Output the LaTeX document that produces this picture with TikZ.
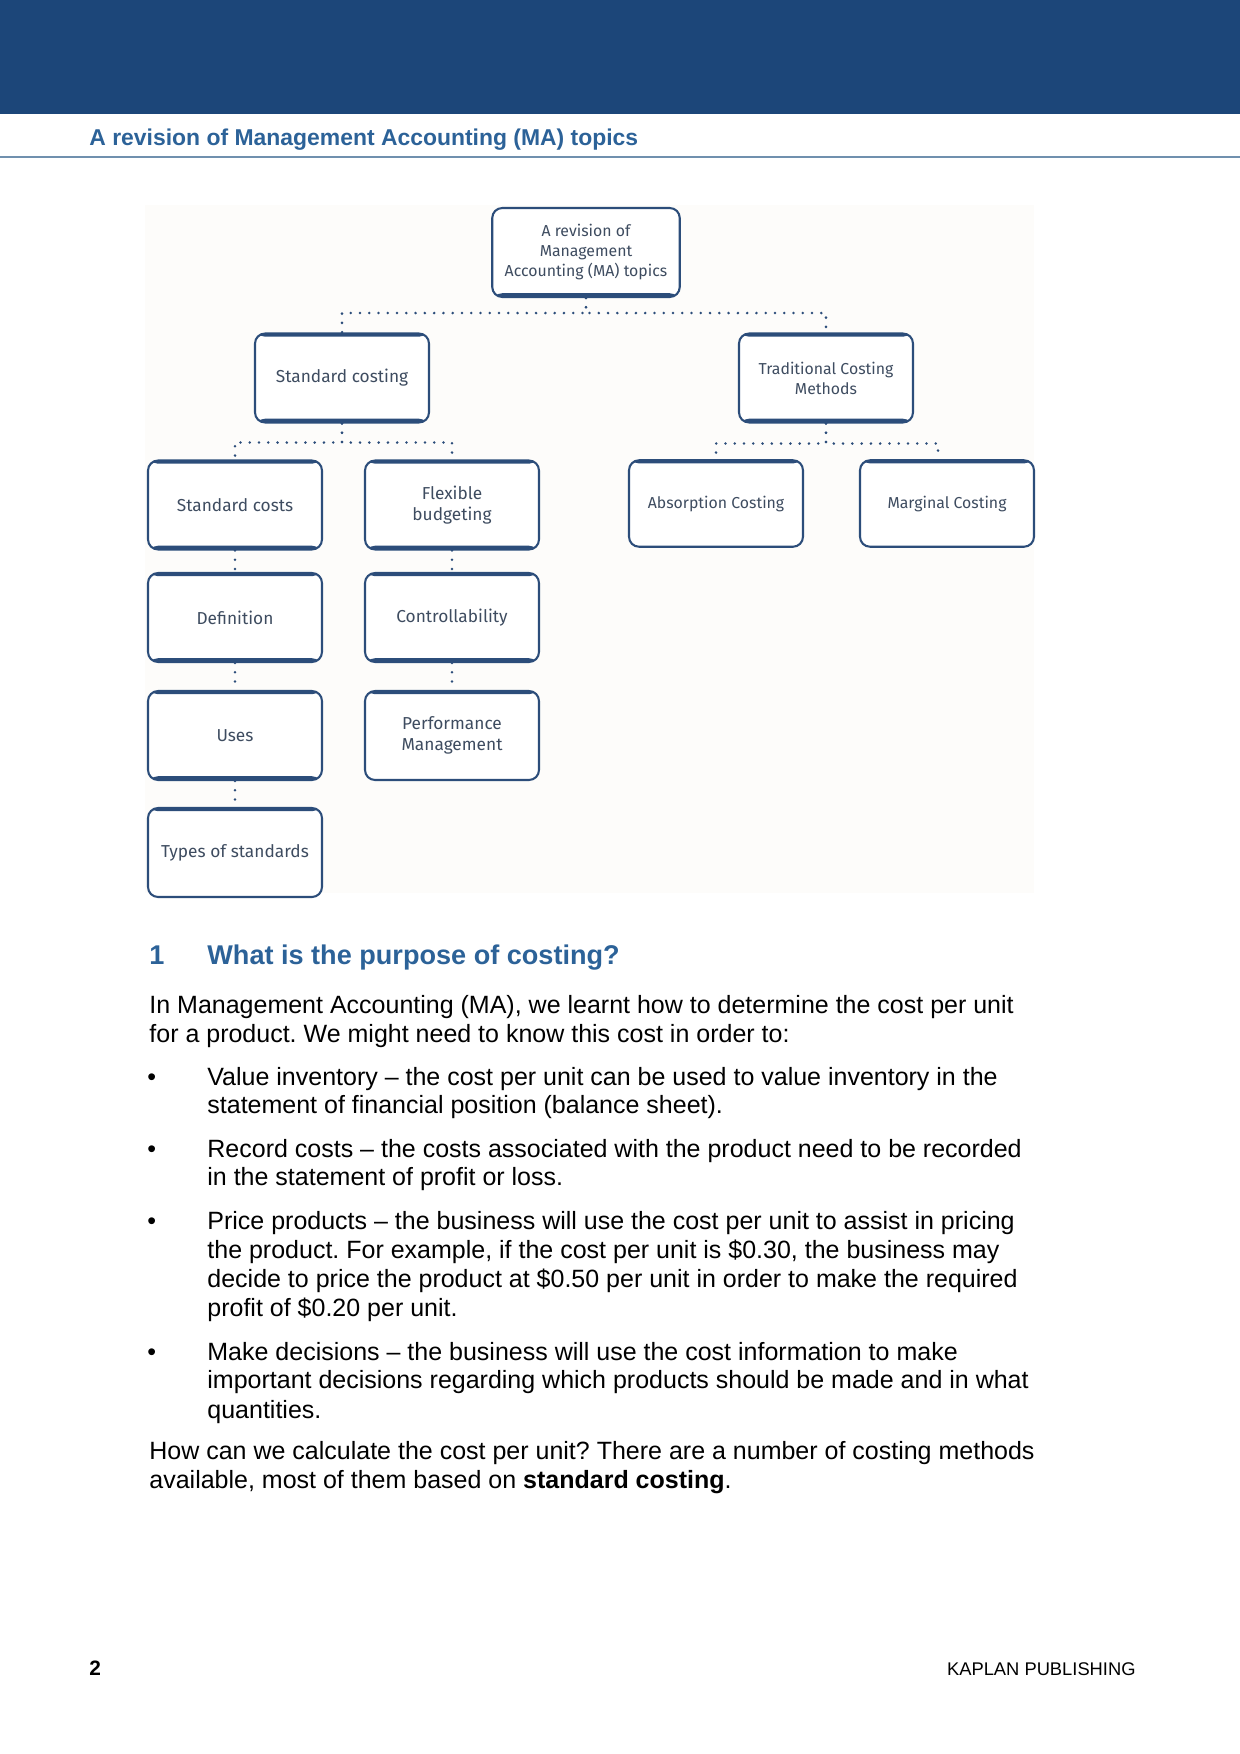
\documentclass[tikz,border=0pt]{standalone}
\usepackage{fontspec}
\setmainfont{Liberation Sans}
\newfontfamily\boxfont{Fira Sans}
\usepackage{tikz}
\usetikzlibrary{positioning}
\frenchspacing

\definecolor{bandblue}{RGB}{28,70,121}
\definecolor{headblue}{RGB}{44,98,152}
\definecolor{ruleblue}{RGB}{112,144,174}
\definecolor{boxblue}{RGB}{44,77,122}
\definecolor{boxtext}{RGB}{62,76,96}
\definecolor{panel}{RGB}{253,252,250}

\begin{document}
\begin{tikzpicture}[x=0.48pt, y=-0.48pt,
		box/.style={rectangle, rounded corners=4.8pt, draw=boxblue, line width=1pt, fill=white,
			minimum width=83.5pt, minimum height=42.7pt, inner sep=2pt, align=center,
			font=\boxfont\fontsize{7.6}{9.6}\selectfont, text=boxtext},
		bigbox/.style={box, font=\boxfont\fontsize{8.3}{10.2}\selectfont},
		thicktop/.style={path picture={\fill[boxblue] (path picture bounding box.north west) rectangle ([yshift=-1.5pt]path picture bounding box.north east);}},
		thickbot/.style={path picture={\fill[boxblue] (path picture bounding box.south west) rectangle ([yshift=1.8pt]path picture bounding box.south east);}},
		thickboth/.style={path picture={\fill[boxblue] (path picture bounding box.north west) rectangle ([yshift=-1.5pt]path picture bounding box.north east);
				\fill[boxblue] (path picture bounding box.south west) rectangle ([yshift=1.8pt]path picture bounding box.south east);}},
		dots/.style={draw=boxblue, line width=1.35pt, line cap=round, dash pattern=on 0pt off 4.45pt},
		body/.style={anchor=base west, inner sep=0pt, font=\fontsize{12}{14}\selectfont}]
	
	\useasboundingbox (0,0) rectangle (1240,1754);
	
	% page header
	\fill[bandblue] (0,0) rectangle (1240,114);
	\node[anchor=base west, inner sep=0pt, text=headblue, font=\bfseries\fontsize{11}{13}\selectfont] (title) at (89,145) {A revision of Management Accounting (MA) topics};
	\draw[ruleblue, line width=1pt] (0,157) -- (1240,157);
	
	% faint panel behind the chart
	\fill[panel] (145,205) rectangle (1034,893);
	
	% top of the chart
	\node[box, thickbot, minimum width=90pt] (root) at (586,252.5) {A revision of\\ Management\\ Accounting (MA) topics};
	\node[bigbox, thickboth] (stdcosting) at (342,378) {Standard costing};
	\node[box, thickboth] (tradcost) at (826,378) {Traditional Costing\\ Methods};
	
	% standard costing branch
	\node[bigbox, thickboth] (stdcosts) at (235,505) {Standard costs};
	\node[bigbox, thickboth] (flexbud) at (452,505) {Flexible\\ budgeting};
	\node[bigbox, thickboth] (defn) at (235,617.5) {Definition};
	\node[bigbox, thickboth] (uses) at (235,735.5) {Uses};
	\node[bigbox, thicktop] (typesstd) at (235,852.5) {Types of standards};
	\node[bigbox, thickboth] (control) at (452,617.5) {Controllability};
	\node[bigbox, thicktop] (perfmgmt) at (452,735.5) {Performance\\ Management};
	
	% traditional costing branch
	\node[box, thicktop, minimum height=41.5pt] (absorb) at (716,503.5) {Absorption Costing};
	\node[box, thicktop, minimum height=41.5pt] (marginal) at (947,503.5) {Marginal Costing};
	
	% dotted connectors
	\draw[dots] (root.south) -- ++(0,15) -| (stdcosting.north);
	\draw[dots] (root.south) -- ++(0,15) -| (tradcost.north);
	\draw[dots] (stdcosting.south) -- ++(0,19) -| (stdcosts.north);
	\draw[dots] (stdcosting.south) -- ++(0,19) -| (flexbud.north);
	\draw[dots] (tradcost.south) -- ++(0,20) -| (absorb.north);
	\draw[dots] (tradcost.south) -- ++(0,20) -| ([xshift=-4.3pt]marginal.north);
	\draw[dots] (stdcosts) -- (defn);
	\draw[dots] (defn) -- (uses);
	\draw[dots] (uses) -- (typesstd);
	\draw[dots] (flexbud) -- (control);
	\draw[dots] (control) -- (perfmgmt);
	
	% section heading
	\node[anchor=base west, inner sep=0pt, text=headblue, font=\bfseries\fontsize{13}{15}\selectfont] (secnum) at (149,964) {1};
	\node[anchor=base west, inner sep=0pt, text=headblue, font=\bfseries\fontsize{13}{15}\selectfont] (sechead) at (207,964) {What is the purpose of costing?};
	
	% body text, one node per line
	\foreach \yy/\xx/\txt [count=\i] in {
		1013/149/{In Management Accounting (MA), we learnt how to determine the cost per unit},
		1042/149/{for a product. We might need to know this cost in order to:},
		1085/207/{Value inventory – the cost per unit can be used to value inventory in the},
		1113/207/{statement of financial position (balance sheet).},
		1157/207/{Record costs – the costs associated with the product need to be recorded},
		1185/207/{in the statement of profit or loss.},
		1229/207/{Price products – the business will use the cost per unit to assist in pricing},
		1258/207/{the product. For example, if the cost per unit is \$0.30, the business may},
		1287/207/{decide to price the product at \$0.50 per unit in order to make the required},
		1316/207/{profit of \$0.20 per unit.},
		1360/207/{Make decisions – the business will use the cost information to make},
		1388/207/{important decisions regarding which products should be made and in what},
		1418/207/{quantities.},
		1459/149/{How can we calculate the cost per unit? There are a number of costing methods},
		1488/149/{available, most of them based on \textbf{standard costing}.}}
	\node[body] (line\i) at (\xx,\yy) {\txt};
	
	% bullets
	\foreach \yy [count=\i] in {1085,1157,1229,1360}
	\node[body] (bullet\i) at (147,\yy) {•};
	
	% footer
	\node[anchor=base west, inner sep=0pt, font=\bfseries\fontsize{10}{12}\selectfont] (pagenum) at (89,1675) {2};
	\node[anchor=base east, inner sep=0pt, font=\fontsize{8.8}{11}\selectfont] (publisher) at (1136,1675) {KAPLAN PUBLISHING};
	
\end{tikzpicture}
\end{document}
